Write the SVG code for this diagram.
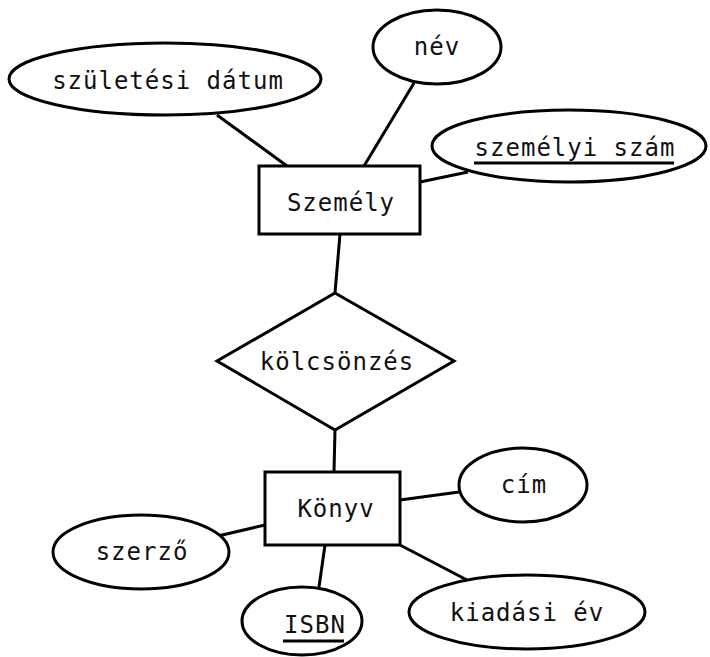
<svg xmlns="http://www.w3.org/2000/svg" width="710" height="657" viewBox="0 0 710 657">
<style>
.s{fill:#fff;stroke:#000;stroke-width:3}
.c line{stroke:#000;stroke-width:3}
text{font-family:"DejaVu Sans Mono","Liberation Mono",monospace;font-size:24px;letter-spacing:1px;fill:#111;text-anchor:middle}
.u{stroke:#000;stroke-width:3}
</style>
<rect width="710" height="657" fill="#fff"/>
<g class="c" id="connectors">
<line x1="217" y1="115" x2="287" y2="166"/>
<line x1="414" y1="83" x2="364" y2="166"/>
<line x1="420" y1="182" x2="468" y2="172"/>
<line x1="340" y1="234" x2="335" y2="293"/>
<line x1="335" y1="430" x2="334" y2="472"/>
<line x1="218" y1="536" x2="265" y2="525"/>
<line x1="325" y1="545" x2="319" y2="587"/>
<line x1="400" y1="500" x2="459" y2="492"/>
<line x1="400" y1="545" x2="467" y2="580"/>
</g>
<g id="szuletesi-datum"><ellipse class="s" cx="165" cy="79" rx="156" ry="36"/><text x="168" y="89">születési dátum</text></g>
<g id="nev"><ellipse class="s" cx="437" cy="47" rx="64" ry="37"/><text x="437" y="55">név</text></g>
<g id="szemelyi-szam"><ellipse class="s" cx="569" cy="146" rx="137" ry="36"/><text x="575" y="156">személyi szám</text><line class="u" x1="474" y1="163" x2="674" y2="163"/></g>
<g id="szemely"><rect class="s" x="259" y="166" width="161" height="68"/><text x="341" y="211">Személy</text></g>
<g id="kolcsonzes"><polygon class="s" points="335,293 454,361 335,430 217,361"/><text x="337" y="370">kölcsönzés</text></g>
<g id="konyv"><rect class="s" x="265" y="472" width="135" height="73"/><text x="336" y="517">Könyv</text></g>
<g id="szerzo"><ellipse class="s" cx="141" cy="552" rx="88" ry="37"/><text x="142" y="560">szerző</text></g>
<g id="isbn"><ellipse class="s" cx="302" cy="621" rx="60" ry="34"/><text x="315" y="633">ISBN</text><line class="u" x1="283" y1="641" x2="344" y2="641"/></g>
<g id="cim"><ellipse class="s" cx="523" cy="485" rx="64" ry="37"/><text x="524" y="493">cím</text></g>
<g id="kiadasi-ev"><ellipse class="s" cx="527" cy="612" rx="118" ry="37"/><text x="527" y="621">kiadási év</text></g>
</svg>
